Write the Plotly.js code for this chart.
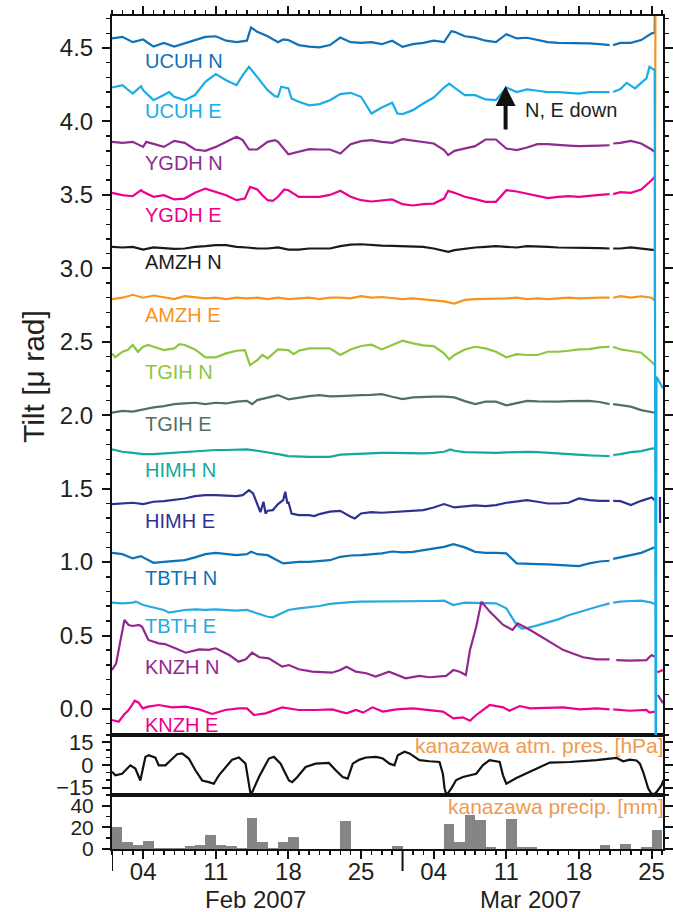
<!DOCTYPE html>
<html>
<head>
<meta charset="utf-8">
<script src="https://cdn.plot.ly/plotly-3.0.1.min.js"></script>
<style>html,body{margin:0;padding:0;background:#fff;}#chart{width:673px;height:912px;}</style>
</head>
<body>
<div id="chart"></div>
<script>
// ---- data: [day offset from 2007-02-01 00:00, value] ----
const UCUH_N = [[0,4.565],[1,4.576],[2,4.54],[3,4.558],[4,4.51],[5,4.535],[6,4.51],[7,4.53],[8,4.554],[9,4.576],[10,4.58],[11,4.55],[12,4.54],[13,4.55],[13.4,4.64],[14,4.61],[15,4.58],[16,4.54],[16.5,4.558],[17,4.554],[18,4.52],[19,4.51],[20,4.504],[21,4.52],[22,4.571],[23,4.54],[24,4.535],[25,4.54],[26,4.526],[27,4.55],[28,4.508],[29,4.526],[30,4.535],[31,4.55],[32,4.54],[32.7,4.615],[33,4.61],[34,4.58],[35,4.571],[36,4.55],[37,4.54],[38,4.594],[39,4.565],[40,4.57],[41,4.554],[42,4.54],[43,4.535],[44,4.535],[45,4.531],[46,4.531],[47,4.526],[47.95,4.52],[48.1,null],[48.3,4.52],[49,4.535],[50,4.535],[51,4.554],[52,4.6],[52.3,4.604],[52.4,5.2]];
const UCUH_E = [[0,4.231],[1,4.247],[2,4.19],[2.8,4.24],[3,4.213],[4,4.145],[5,4.18],[5.5,4.2],[6,4.168],[7,4.145],[8,4.18],[9,4.27],[10,4.322],[11,4.281],[12,4.247],[12.6,4.315],[13.2,4.372],[14,4.304],[15,4.213],[15.7,4.172],[16,4.168],[16.3,4.236],[17,4.225],[17.3,4.156],[18,4.134],[19,4.11],[20,4.118],[21,4.145],[22,4.186],[23,4.195],[24,4.168],[25,4.054],[26,4.095],[27,4.127],[27.5,4.054],[28,4.05],[29,4.077],[30,4.122],[31,4.163],[32,4.231],[32.5,4.258],[33,4.231],[34,4.179],[35,4.179],[36,4.15],[37,4.145],[38,4.231],[39,4.2],[40,4.218],[41,4.209],[42,4.2],[43,4.2],[44,4.195],[45,4.19],[46,4.2],[47,4.2],[47.95,4.2],[48.1,null],[48.3,4.2],[49,4.22],[49.6,4.263],[50.4,4.225],[51.5,4.293],[51.8,4.372],[52.3,4.35],[52.4,-1],[52.47,2.262],[53.1,2.183]];
const YGDH_N = [[0,3.861],[1,3.854],[2,3.861],[3,3.827],[3.3,3.861],[4,3.845],[5,3.827],[6,3.868],[7,3.854],[8,3.809],[9,3.8],[10,3.827],[11,3.861],[12,3.896],[12.6,3.873],[13.2,3.809],[14,3.809],[15,3.861],[15.7,3.873],[16,3.861],[17,3.777],[18,3.793],[19,3.811],[20,3.809],[21,3.809],[22,3.782],[23,3.845],[24,3.866],[25,3.873],[26,3.861],[27,3.854],[28,3.879],[29,3.868],[30,3.857],[31,3.85],[32,3.805],[32.4,3.771],[33,3.8],[34,3.816],[35,3.832],[36,3.877],[37,3.877],[38,3.816],[39,3.805],[40,3.823],[41,3.845],[42,3.845],[43,3.838],[44,3.836],[45,3.832],[46,3.836],[47,3.836],[47.95,3.838],[48.1,null],[48.3,3.85],[49,3.854],[50,3.868],[51,3.85],[52,3.809],[52.3,3.793]];
const YGDH_E = [[0,3.514],[1,3.498],[2,3.491],[2.8,3.532],[3,3.521],[4,3.487],[5,3.498],[6,3.469],[7,3.475],[8,3.514],[9,3.543],[10,3.521],[11,3.498],[12,3.464],[12.8,3.475],[13.3,3.555],[14,3.537],[14.5,3.498],[15,3.464],[15.5,3.46],[16,3.487],[16.6,3.537],[17,3.532],[18,3.487],[19,3.487],[20,3.487],[21,3.5],[22,3.528],[23,3.487],[24,3.464],[25,3.455],[26,3.464],[27,3.469],[28,3.437],[29,3.428],[30,3.437],[31,3.441],[32,3.475],[32.4,3.528],[33,3.514],[34,3.487],[35,3.471],[36,3.453],[37,3.453],[38,3.532],[39,3.523],[40,3.509],[41,3.491],[42,3.478],[43,3.487],[44,3.491],[45,3.487],[46,3.496],[47,3.5],[47.95,3.505],[48.1,null],[48.3,3.505],[49,3.519],[50,3.514],[51,3.537],[52,3.6],[52.3,3.623]];
const AMZH_N = [[0,3.146],[1,3.142],[2,3.146],[3,3.128],[4,3.142],[5,3.135],[6,3.133],[7,3.135],[8,3.146],[9,3.151],[10,3.158],[11,3.158],[12,3.146],[13,3.142],[14,3.135],[15,3.135],[16,3.142],[17,3.128],[18,3.128],[19,3.135],[20,3.135],[21,3.135],[22,3.151],[23,3.162],[24,3.164],[25,3.158],[26,3.155],[27,3.153],[28,3.151],[29,3.151],[30,3.146],[31,3.135],[32,3.119],[32.4,3.112],[33,3.124],[34,3.135],[35,3.142],[36,3.146],[37,3.151],[38,3.146],[39,3.142],[40,3.151],[41,3.146],[42,3.146],[43,3.142],[44,3.142],[45,3.142],[46,3.139],[47,3.137],[47.95,3.135],[48.1,null],[48.3,3.135],[49,3.135],[50,3.142],[51,3.135],[52,3.128],[52.3,3.124]];
const AMZH_E = [[0,2.79],[1,2.80],[2,2.82],[3,2.80],[4,2.815],[5,2.80],[6,2.79],[7,2.81],[8,2.80],[9,2.795],[10,2.80],[11,2.79],[12,2.80],[13,2.795],[14,2.80],[15,2.79],[16,2.80],[17,2.79],[18,2.795],[19,2.80],[20,2.79],[21,2.80],[22,2.80],[23,2.795],[24,2.81],[25,2.80],[26,2.805],[27,2.795],[28,2.79],[29,2.795],[30,2.79],[31,2.785],[32,2.775],[33,2.76],[34,2.785],[35,2.79],[36,2.79],[37,2.79],[38,2.795],[39,2.80],[40,2.79],[41,2.795],[42,2.79],[43,2.795],[44,2.80],[45,2.795],[46,2.80],[47,2.80],[47.95,2.80],[48.1,null],[48.3,2.80],[49,2.81],[50,2.80],[51,2.81],[52,2.80],[52.3,2.78],[52.42,6]];
const TGIH_N = [[0,2.421],[0.3,2.394],[1,2.432],[1.5,2.443],[2,2.478],[2.5,2.432],[3,2.466],[3.5,2.478],[4,2.466],[5,2.443],[6,2.455],[6.5,2.484],[7,2.478],[8,2.448],[9,2.394],[10,2.394],[11,2.421],[12,2.439],[12.8,2.443],[13.3,2.341],[14,2.375],[14.5,2.41],[15,2.387],[16,2.448],[17,2.443],[17.5,2.416],[18,2.439],[19,2.455],[20,2.455],[21,2.455],[22,2.41],[23,2.448],[24,2.471],[25,2.48],[26,2.448],[27,2.478],[28,2.507],[29,2.489],[30,2.475],[31,2.471],[32,2.421],[32.5,2.38],[33,2.41],[34,2.448],[35,2.466],[36,2.455],[37,2.432],[38,2.394],[39,2.416],[40,2.41],[41,2.41],[42,2.432],[43,2.432],[44,2.439],[45,2.448],[46,2.45],[47,2.462],[47.95,2.466],[48.1,null],[48.3,2.466],[49,2.448],[50,2.437],[51,2.425],[52,2.364],[52.3,2.341]];
const TGIH_E = [[0,2.017],[1,2.03],[2,2.024],[3,2.04],[4,2.053],[5,2.062],[6,2.076],[7,2.08],[8,2.085],[9,2.076],[10,2.085],[11,2.08],[12,2.092],[13,2.098],[13.5,2.076],[14,2.103],[15,2.121],[16,2.137],[17,2.108],[18,2.121],[19,2.13],[20,2.137],[21,2.128],[22,2.13],[23,2.135],[24,2.137],[25,2.139],[26,2.144],[27,2.126],[28,2.11],[29,2.121],[30,2.126],[31,2.126],[32,2.126],[33,2.121],[34,2.096],[35,2.076],[36,2.092],[37,2.092],[38,2.067],[39,2.08],[40,2.098],[41,2.094],[42,2.092],[43,2.092],[44,2.096],[45,2.098],[46,2.098],[47,2.09],[47.95,2.076],[48.1,null],[48.3,2.076],[49,2.069],[50,2.058],[51,2.035],[52,2.024],[52.3,2.017]];
const HIMH_N = [[0,1.767],[1,1.751],[2,1.744],[3,1.735],[4,1.735],[5,1.74],[6,1.744],[7,1.751],[8,1.758],[9,1.758],[10,1.763],[11,1.763],[12,1.763],[13,1.767],[14,1.758],[15,1.744],[16,1.735],[17,1.722],[18,1.717],[19,1.717],[20,1.717],[21,1.717],[22,1.731],[23,1.735],[24,1.74],[25,1.742],[26,1.744],[27,1.744],[28,1.742],[29,1.74],[30,1.74],[31,1.744],[32,1.751],[32.6,1.767],[33,1.758],[34,1.749],[35,1.747],[36,1.744],[37,1.744],[38,1.747],[39,1.751],[40,1.751],[41,1.749],[42,1.744],[43,1.737],[44,1.733],[45,1.729],[46,1.726],[47,1.724],[47.95,1.722],[48.1,null],[48.3,1.729],[49,1.735],[50,1.749],[51,1.756],[52,1.772],[52.3,1.774]];
const HIMH_E = [[0,1.395],[1,1.399],[2,1.404],[3,1.395],[4,1.411],[5,1.415],[6,1.422],[7,1.433],[8,1.449],[9,1.456],[10,1.456],[11,1.454],[12,1.449],[12.6,1.456],[13.2,1.49],[13.6,1.467],[14,1.395],[14.3,1.34],[14.6,1.411],[14.8,1.331],[15,1.35],[15.5,1.354],[16,1.395],[16.5,1.422],[16.7,1.479],[16.9,1.399],[17,1.411],[17.3,1.331],[18,1.32],[19,1.32],[19.5,1.313],[20,1.327],[21,1.343],[22,1.349],[23,1.309],[23.4,1.297],[24,1.331],[25,1.34],[26,1.336],[27,1.34],[28,1.345],[29,1.349],[30,1.354],[31,1.372],[32,1.395],[33,1.372],[34,1.381],[35,1.386],[36,1.381],[37,1.388],[38,1.404],[39,1.411],[40,1.422],[41,1.411],[42,1.399],[43,1.399],[44,1.404],[45,1.433],[46,1.422],[47,1.417],[47.95,1.417],[48.1,null],[48.3,1.417],[49,1.415],[50,1.388],[51,1.417],[52,1.44],[52.3,1.422],[52.45,null],[52.8,1.443],[52.82,1.266]];
const TBTH_N = [[0,1.063],[1,1.054],[2,1.025],[2.8,1.041],[3,1.032],[4,0.995],[5,1.002],[6,1.009],[7,1.013],[8,1.032],[9,1.054],[10,1.063],[11,1.054],[12,1.047],[13,1.054],[13.4,1.07],[14,1.054],[15,1.047],[16,1.009],[16.5,0.991],[17,0.995],[18,1.002],[19,1.002],[20,1.009],[21,1.013],[22,1.036],[23,1.045],[24,1.047],[25,1.054],[26,1.059],[27,1.072],[28,1.066],[29,1.07],[30,1.081],[31,1.091],[32,1.104],[32.9,1.122],[33,1.12],[34,1.1],[35,1.07],[36,1.063],[37,1.063],[38,1.059],[39,0.991],[40,0.986],[41,0.986],[42,0.984],[43,0.979],[44,0.977],[45,0.973],[46,0.991],[47,1.004],[47.95,1.009],[48.1,null],[48.3,1.022],[49,1.032],[50,1.047],[51,1.063],[52,1.093],[52.3,1.1]];
const TBTH_E = [[0,0.724],[1,0.719],[2,0.724],[2.3,0.731],[3,0.708],[4,0.692],[5,0.674],[5.5,0.656],[6,0.663],[7,0.674],[8,0.678],[9,0.674],[10,0.678],[11,0.674],[12,0.669],[13,0.674],[14,0.651],[15,0.628],[15.5,0.624],[16,0.64],[17,0.674],[18,0.685],[19,0.692],[20,0.701],[21,0.715],[22,0.724],[23,0.728],[24,0.731],[27,0.731],[29,0.733],[31,0.735],[32,0.737],[32.9,0.708],[34,0.724],[36,0.724],[37,0.719],[38,0.685],[38.6,0.617],[39,0.572],[39.5,0.547],[40,0.551],[41,0.569],[42,0.588],[43,0.61],[44,0.638],[45,0.66],[46,0.681],[47,0.701],[47.95,0.719],[48.1,null],[48.3,0.724],[49,0.731],[50,0.735],[51,0.737],[52,0.724],[52.3,0.715]];
const KNZH_N = [[0,0.265],[0.4,0.31],[0.8,0.46],[1.2,0.606],[1.6,0.572],[2,0.565],[2.6,0.572],[2.9,0.56],[3.2,0.515],[3.5,0.47],[4.5,0.447],[5.1,0.442],[6.1,0.413],[7.1,0.383],[8.4,0.406],[9.3,0.402],[10,0.413],[11.3,0.367],[12.2,0.322],[12.9,0.338],[13.5,0.383],[14.2,0.352],[15.1,0.345],[16.4,0.288],[17.05,0.299],[18,0.27],[19.3,0.254],[20.5,0.25],[21.2,0.247],[22,0.265],[22.6,0.288],[23.5,0.254],[24.5,0.243],[25.4,0.22],[26.7,0.254],[28.3,0.209],[29.6,0.225],[30.6,0.216],[32.2,0.225],[32.9,0.265],[33.5,0.254],[34.1,0.231],[34.5,0.401],[35.1,0.56],[35.6,0.731],[36.4,0.663],[37.7,0.572],[38.6,0.538],[39.1,0.583],[40.3,0.538],[41.9,0.47],[43.5,0.401],[45.4,0.352],[46.7,0.338],[47.95,0.338],[48.1,null],[48.6,0.333],[49.9,0.329],[51.5,0.333],[52.0,0.367],[52.3,0.356],[52.45,null],[52.6,0.095],[53.1,0.04]];
const KNZH_E = [[0,-0.075],[0.64,-0.087],[1.13,-0.041],[1.6,-0.007],[2.2,0.056],[2.57,0.043],[2.96,0.004],[3.5,0.016],[4.5,0.027],[5.8,0.011],[7.1,0.016],[8.4,-0.003],[9.65,-0.034],[10.9,-0.007],[12.2,0.004],[13,0.004],[13.7,-0.041],[14.8,-0.03],[16.4,0.011],[18,-0.007],[19.6,-0.007],[21.2,-0.003],[22.6,-0.03],[23.5,-0.007],[24.2,-0.025],[25.1,0.011],[26.1,-0.018],[27.4,-0.003],[29,0.004],[30.6,-0.007],[31.9,-0.018],[32.9,-0.064],[33.8,-0.057],[34.5,-0.08],[35.1,-0.041],[36.4,0.027],[37.7,0.011],[38.3,-0.012],[39.3,0.02],[40.3,0.004],[43.5,0.011],[45.1,-0.003],[46.7,0.004],[47.95,-0.003],[48.1,null],[48.3,-0.003],[49.9,-0.012],[51.5,-0.007],[51.8,-0.025],[52.3,-0.018],[52.45,null],[52.55,0.25],[53.1,0.265]];
const PRESSURE = [[0,-4.5],[0.32,-6.9],[0.97,-5.8],[1.77,-0.2],[2.25,-2.4],[2.73,-10.3],[3.22,5.4],[3.54,6.5],[4.18,4.9],[4.5,-0.2],[5.15,-0.2],[5.63,3.2],[6.27,7.2],[6.76,7.7],[7.4,4.3],[8.04,-3.5],[8.69,-10.3],[9.33,-11.4],[9.81,-12.5],[10.3,-6.9],[11.58,3.6],[12.23,5.0],[12.87,0.9],[13.35,-19.2],[13.51,-18.1],[14.16,-8.0],[15.12,4.3],[15.6,5.4],[16.25,0.9],[17.05,-10.3],[17.37,-11.4],[17.86,-8.0],[18.66,-1.3],[19.63,0.9],[20.9,1.4],[21.56,-3.5],[21.88,-5.8],[22.23,-8.0],[22.72,-9.1],[23.2,0.9],[23.85,3.6],[24.49,5.0],[25.45,5.4],[26.1,4.3],[26.74,0.9],[27.22,-0.2],[27.54,6.5],[28.19,8.8],[28.67,7.7],[29.63,3.2],[30.6,2.5],[31.56,2.0],[31.89,-6.0],[32.05,-15.6],[32.21,-19.7],[32.4,-18.5],[32.7,-15.6],[33.17,-10.0],[33.82,-8.0],[35.1,-5.8],[35.75,0.0],[36.39,3.2],[37.36,2.0],[37.68,-6.9],[38.0,-12.5],[38.97,-8.7],[40.58,-3.5],[42.19,1.6],[44.12,2.0],[46.69,3.2],[48.62,4.7],[49.26,2.5],[49.9,3.6],[50.55,3.0],[50.87,0.9],[51.19,-4.7],[51.67,-15.6],[51.99,-19.2],[52.3,-19.2],[52.47,-18.1],[52.96,-13.5],[53.12,-10.3]];
// daily precipitation, day 0 = 2007-02-01
const PRECIP = [20.6,6.1,4.0,7.7,0.8,0.8,0.8,3.1,4.0,13.2,4.0,2.4,0.9,28.7,6.1,0.9,6.1,10.8,0,0,0,0,26.2,0,0,0,0,3.1,0,0,0,0,23.4,6.1,31.7,26.5,1.8,0,28.0,1.8,1.8,0,0,0,0,0,0,4.0,0,4.9,0,1.8,17.9];

const SERIES = [
  ['UCUH N', UCUH_N, '#1070B8', 4.415],
  ['YGDH N', YGDH_N, '#8E2C90', 3.720],
  ['YGDH E', YGDH_E, '#EC008C', 3.366],
  ['AMZH N', AMZH_N, '#1A1A1A', 3.040],
  ['AMZH E', AMZH_E, '#F7941D', 2.679],
  ['TGIH N', TGIH_N, '#8DC63F', 2.291],
  ['TGIH E', TGIH_E, '#4E7262', 1.937],
  ['HIMH N', HIMH_N, '#12AA9E', 1.627],
  ['HIMH E', HIMH_E, '#2E3192', 1.283],
  ['TBTH N', TBTH_N, '#0B72BA', 0.895],
  ['TBTH E', TBTH_E, '#27AAE1', 0.562],
  ['KNZH N', KNZH_N, '#92278F', 0.283],
  ['KNZH E', KNZH_E, '#EC008C', -0.106],
  ['UCUH E', UCUH_E, '#1AACE6', 4.074]
];

const DAY = 86400000;
const T0 = Date.UTC(2007, 1, 1);
function toDate(d) { return new Date(T0 + d * DAY).toISOString().replace('T', ' ').slice(0, 19); }

const FONT = 'Liberation Sans, Arial, Helvetica, sans-serif';
const TXT = '#231F20';

const traces = [];
const annotations = [];
SERIES.forEach(([name, pts, color, labelY]) => {
  traces.push({
    type: 'scatter', mode: 'lines', name: name,
    x: pts.map(p => toDate(p[0])), y: pts.map(p => p[1]),
    xaxis: 'x3', yaxis: 'y3', connectgaps: false,
    line: {color: color, width: 2.2}, hoverinfo: 'skip'
  });
  annotations.push({
    xref: 'x3', yref: 'y3', x: toDate(3.0), y: labelY, xanchor: 'left', yanchor: 'middle',
    text: name, showarrow: false, font: {family: FONT, size: 20, color: color}
  });
});

traces.push({
  type: 'scatter', mode: 'lines', name: 'pressure',
  x: PRESSURE.map(p => toDate(p[0])), y: PRESSURE.map(p => p[1]),
  xaxis: 'x2', yaxis: 'y2', line: {color: '#111', width: 2.2}, hoverinfo: 'skip'
});
traces.push({
  type: 'bar', name: 'precip',
  x: PRECIP.map((v, i) => toDate(i + 0.5)), y: PRECIP,
  width: PRECIP.map(() => DAY),
  xaxis: 'x', yaxis: 'y', marker: {color: '#858585', line: {width: 0}}, hoverinfo: 'skip'
});

// arrow + note
annotations.push({
  xref: 'x3', yref: 'y3', x: toDate(37.93), y: 4.241, ax: 0, ay: 45, axref: 'pixel', ayref: 'pixel',
  text: '', showarrow: true, arrowhead: 2, arrowsize: 1, arrowwidth: 4, arrowcolor: '#111'
});
annotations.push({
  xref: 'x3', yref: 'y3', x: toDate(39.6), y: 4.078, xanchor: 'left', yanchor: 'middle',
  text: 'N, E down', showarrow: false, font: {family: FONT, size: 20, color: TXT}
});
// panel notes
annotations.push({
  xref: 'paper', yref: 'paper', x: 1.006, y: 0.1245, xanchor: 'right', yanchor: 'middle',
  text: 'kanazawa atm. pres. [hPa]', showarrow: false, font: {family: FONT, size: 21, color: '#EF9A4E'}
});
annotations.push({
  xref: 'paper', yref: 'paper', x: 1.006, y: 0.0516, xanchor: 'right', yanchor: 'middle',
  text: 'kanazawa precip. [mm]', showarrow: false, font: {family: FONT, size: 21, color: '#EF9A4E'}
});
// y title
annotations.push({
  xref: 'paper', yref: 'paper', x: -0.1434, y: 0.5678, xanchor: 'center', yanchor: 'middle',
  text: 'Tilt [μ rad]', textangle: -90, showarrow: false, font: {family: FONT, size: 30, color: TXT}
});
// month labels
annotations.push({
  xref: 'x', yref: 'paper', x: toDate(13.8), y: -0.061, xanchor: 'center', yanchor: 'middle',
  text: 'Feb 2007', showarrow: false, font: {family: FONT, size: 24, color: TXT}
});
annotations.push({
  xref: 'x', yref: 'paper', x: toDate(40.3), y: -0.061, xanchor: 'center', yanchor: 'middle',
  text: 'Mar 2007', showarrow: false, font: {family: FONT, size: 24, color: TXT}
});

const shapes = [0, 28].map(d => ({
  type: 'line', xref: 'x', yref: 'paper', x0: toDate(d), x1: toDate(d), y0: 0, y1: -22 / 833,
  line: {color: '#111', width: 2}
}));

const xRange = [toDate(0), toDate(53.1)];
const baseX = {
  type: 'date', range: xRange, showgrid: false, zeroline: false,
  showline: true, linewidth: 2, linecolor: '#111', mirror: true
};
const baseY = {
  showgrid: false, zeroline: false, showline: true, linewidth: 2, linecolor: '#111',
  mirror: 'ticks', ticks: 'outside', ticklen: 8, tickwidth: 2, tickcolor: '#111',
  ticklabelstandoff: 4
};

const layout = {
  width: 673, height: 912,
  margin: {l: 112, r: 10, t: 16, b: 63},
  paper_bgcolor: '#fff', plot_bgcolor: '#fff',
  showlegend: false, bargap: 0,
  font: {family: FONT, color: TXT},
  xaxis: Object.assign({}, baseX, {
    anchor: 'y', side: 'bottom', ticks: 'outside', ticklen: 8, tickwidth: 2, tickcolor: '#111',
    tick0: '2007-02-04', dtick: 7 * DAY, tickformat: '%d',
    tickfont: {size: 24, family: FONT, color: TXT}, ticklabelstandoff: -8,
    minor: {ticks: 'outside', dtick: DAY, tick0: '2007-02-01', ticklen: 4, tickwidth: 1.5, tickcolor: '#111'}
  }),
  xaxis2: Object.assign({}, baseX, {anchor: 'y2', matches: 'x', ticks: '', showticklabels: false}),
  xaxis3: Object.assign({}, baseX, {
    anchor: 'y3', matches: 'x', side: 'top', ticks: 'outside', ticklen: 8, tickwidth: 2, tickcolor: '#111',
    tick0: '2007-02-04', dtick: 7 * DAY, showticklabels: false,
    minor: {ticks: 'outside', dtick: DAY, tick0: '2007-02-01', ticklen: 4, tickwidth: 1.5, tickcolor: '#111'}
  }),
  yaxis: Object.assign({}, baseY, {
    domain: [0, 0.0648], range: [0, 50], tickvals: [0, 20, 40],
    tickfont: {size: 21, family: FONT, color: TXT},
    minor: {ticks: 'outside', dtick: 10, ticklen: 4, tickwidth: 1.5, tickcolor: '#111'}
  }),
  yaxis2: Object.assign({}, baseY, {
    domain: [0.0648, 0.1369], range: [-20, 20], tickvals: [-15, 0, 15],
    tickfont: {size: 22, family: FONT, color: TXT},
    minor: {ticks: 'outside', dtick: 5, ticklen: 4, tickwidth: 1.5, tickcolor: '#111'}
  }),
  yaxis3: Object.assign({}, baseY, {
    domain: [0.1369, 1], range: [-0.177, 4.718], tick0: 0, dtick: 0.5, tickformat: '.1f',
    tickfont: {size: 24, family: FONT, color: TXT},
    minor: {ticks: 'outside', dtick: 0.1, ticklen: 4, tickwidth: 1.5, tickcolor: '#111'}
  }),
  annotations: annotations,
  shapes: shapes
};

Plotly.newPlot('chart', traces, layout, {displayModeBar: false, staticPlot: true});
</script>
</body>
</html>
